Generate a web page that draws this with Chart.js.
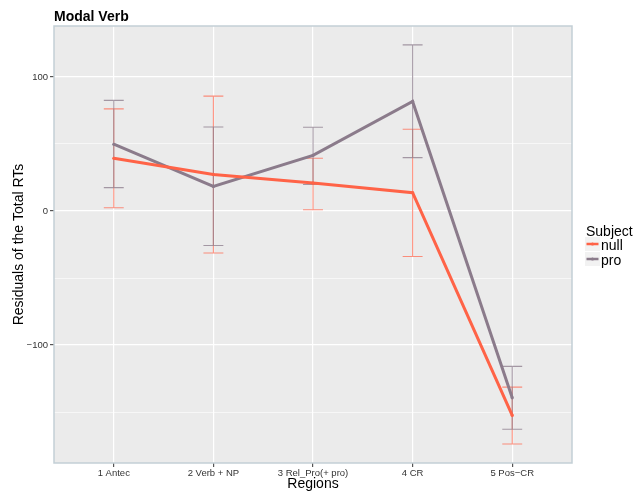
<!DOCTYPE html>
<html>
<head>
<meta charset="utf-8">
<script src="https://cdn.jsdelivr.net/npm/chart.js@4/dist/chart.umd.min.js"></script>
<style>
  body { margin: 0; background: #fff; }
  #wrap { width: 633px; height: 491px; }
</style>
</head>
<body>
<div id="wrap"><canvas id="grafico" width="633" height="491"></canvas></div>
<script>
// datos
const regions = ['1 Antec', '2 Verb + NP', '3 Rel_Pro(+ pro)', '4 CR', '5 Pos\u2212CR'];
const subjects = ['null', 'pro'];

const nullMean  = [39.3, 27.3, 20.8, 13.6, -152.5];
const nullLower = [2.4, -31.3, 0.9, -34.0, -173.8];
const nullUpper = [76.2, 85.7, 39.3, 61.0, -131.4];

const proMean  = [49.8, 18.3, 41.5, 81.7, -139.4];
const proLower = [17.4, -25.8, 19.8, 39.8, -162.8];
const proUpper = [82.5, 62.7, 62.5, 123.9, -115.9];

const yTicks = [-100, 0, 100];

const colores = { null: '#FF6347', pro: '#8B7B8B' };
const coloresError = { null: 'rgba(255,110,85,0.75)', pro: 'rgba(139,123,139,0.75)' };

const fuente = "'Liberation Sans', Arial, Helvetica, sans-serif";

function puntos(arr) {
    return arr.map((v, i) => ({ x: i + 1, y: v }));
}

// fondo gris del panel + barras de error + borde
const panelPlugin = {
    id: 'panel',
    beforeDraw(chart) {
        const { ctx, chartArea: a } = chart;
        ctx.save();
        ctx.fillStyle = '#EBEBEB';
        ctx.fillRect(a.left, a.top, a.right - a.left, a.bottom - a.top);
        ctx.restore();
    },
    beforeDatasetsDraw(chart) {
        const { ctx, scales } = chart;
        const x = scales.x, y = scales.y;
        const grupos = [
            { lo: nullLower, hi: nullUpper, color: coloresError.null },
            { lo: proLower, hi: proUpper, color: coloresError.pro }
        ];
        ctx.save();
        ctx.lineWidth = 1.1;
        grupos.forEach(g => {
            ctx.strokeStyle = g.color;
            g.lo.forEach((lo, i) => {
                const px = x.getPixelForValue(i + 1);
                const half = x.getPixelForValue(i + 1.1) - px;
                const pLo = y.getPixelForValue(lo);
                const pHi = y.getPixelForValue(g.hi[i]);
                ctx.beginPath();
                ctx.moveTo(px, pLo); ctx.lineTo(px, pHi);
                ctx.moveTo(px - half, pLo); ctx.lineTo(px + half, pLo);
                ctx.moveTo(px - half, pHi); ctx.lineTo(px + half, pHi);
                ctx.stroke();
            });
        });
        ctx.restore();
    },
    afterDraw(chart) {
        const { ctx, chartArea: a } = chart;
        ctx.save();
        ctx.strokeStyle = '#C3CFD6';
        ctx.lineWidth = 1.5;
        ctx.strokeRect(a.left, a.top, a.right - a.left, a.bottom - a.top);

        // titulo
        ctx.fillStyle = '#000';
        ctx.font = 'bold 14px ' + fuente;
        ctx.textAlign = 'left';
        ctx.textBaseline = 'alphabetic';
        ctx.fillText('Modal Verb', a.left, 21);

        // leyenda
        ctx.font = '14px ' + fuente;
        ctx.fillText('Subject', 586, 236);
        subjects.forEach((s, i) => {
            const cy = 244 + i * 15;
            ctx.fillStyle = '#F2F2F2';
            ctx.fillRect(585, cy - 7, 15, 14);
            ctx.strokeStyle = colores[s];
            ctx.lineWidth = 2.5;
            ctx.beginPath();
            ctx.moveTo(586.5, cy); ctx.lineTo(598.5, cy);
            ctx.stroke();
            ctx.fillStyle = colores[s];
            ctx.beginPath();
            ctx.arc(592.5, cy, 1.6, 0, Math.PI * 2);
            ctx.fill();
            ctx.fillStyle = '#000';
            ctx.fillText(s, 601, cy + 5.5);
        });
        ctx.restore();
    }
};

const ctx = document.getElementById('grafico').getContext('2d');

new Chart(ctx, {
    type: 'line',
    data: {
        datasets: [
            {
                label: 'null',
                data: puntos(nullMean),
                borderColor: colores.null,
                backgroundColor: colores.null,
                borderWidth: 3,
                pointRadius: 1.6,
                pointBorderWidth: 0,
                pointHoverRadius: 1.6,
                tension: 0
            },
            {
                label: 'pro',
                data: puntos(proMean),
                borderColor: colores.pro,
                backgroundColor: colores.pro,
                borderWidth: 3,
                pointRadius: 1.6,
                pointBorderWidth: 0,
                pointHoverRadius: 1.6,
                tension: 0
            }
        ]
    },
    options: {
        responsive: false,
        animation: false,
        layout: { padding: { top: 26, right: 61, left: 0, bottom: 0 } },
        plugins: {
            legend: { display: false },
            tooltip: { enabled: false }
        },
        scales: {
            x: {
                type: 'linear',
                min: 0.4,
                max: 5.6,
                afterFit: s => { s.height = 28; },
                border: { display: false },
                grid: {
                    color: '#FFFFFF',
                    lineWidth: 1.2,
                    tickLength: 4,
                    tickColor: '#555'
                },
                ticks: {
                    stepSize: 1,
                    includeBounds: false,
                    autoSkip: false,
                    maxRotation: 0,
                    padding: 1,
                    color: '#333',
                    font: { family: fuente, size: 9.5 },
                    callback: v => regions[v - 1] ?? ''
                },
                title: {
                    display: true,
                    text: 'Regions',
                    color: '#000',
                    font: { family: fuente, size: 14 },
                    padding: { top: 0, bottom: -2 }
                }
            },
            y: {
                min: -188,
                max: 138,
                afterFit: s => { s.width = 54; },
                border: { display: false },
                grid: {
                    color: '#FFFFFF',
                    lineWidth: c => (yTicks.includes(c.tick.value) ? 1.2 : 0.6),
                    tickLength: 4,
                    tickColor: c => (yTicks.includes(c.tick.value) ? '#555' : 'rgba(0,0,0,0)')
                },
                ticks: {
                    stepSize: 50,
                    includeBounds: false,
                    padding: 2,
                    color: '#333',
                    font: { family: fuente, size: 9.5 },
                    callback: v => (yTicks.includes(v) ? String(v).replace('-', '\u2212') : '')
                },
                title: {
                    display: true,
                    text: 'Residuals of the Total RTs',
                    color: '#000',
                    font: { family: fuente, size: 14 },
                    padding: { top: 11, bottom: 0 }
                }
            }
        }
    },
    plugins: [panelPlugin]
});
</script>
</body>
</html>
